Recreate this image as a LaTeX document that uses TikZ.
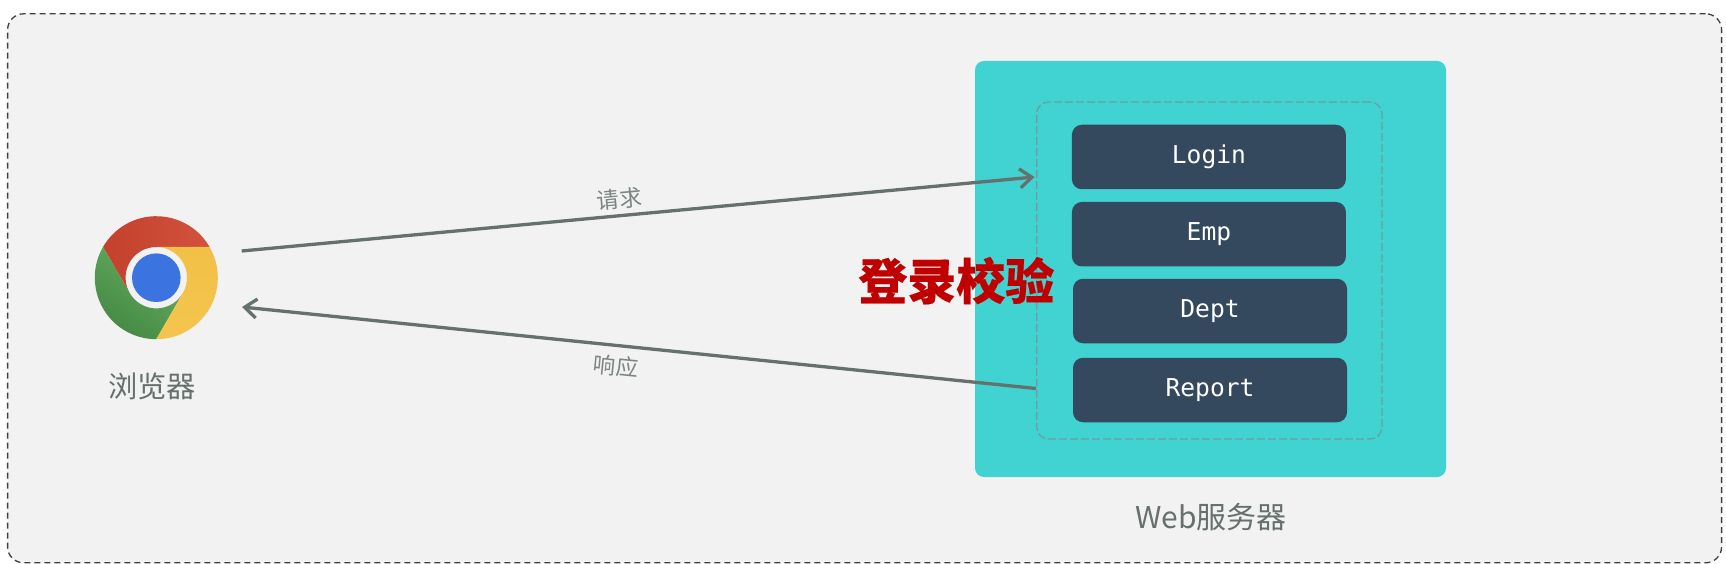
\documentclass[tikz,border=0pt]{standalone}
\usepackage{fontspec}
\setmainfont{Noto Sans CJK SC}
\newfontfamily\boxfont{DejaVu Sans Mono}
\newfontfamily\verifyfont{Noto Sans CJK SC}[BoldFeatures={FakeBold=0.35}]
\usetikzlibrary{arrows.meta}
\definecolor{panelbg}{HTML}{F2F2F2}
\definecolor{tealbox}{HTML}{41D3D1}
\definecolor{filterdash}{HTML}{6F9C9E}
\definecolor{slatebox}{HTML}{34495E}
\definecolor{arrowgrey}{HTML}{66706C}
\definecolor{labelgrey}{HTML}{66706C}
\definecolor{edgegrey}{HTML}{7C8582}
\definecolor{verifyred}{HTML}{C00000}
\definecolor{redl}{HTML}{C3412D}
\definecolor{redr}{HTML}{D1523D}
\definecolor{yelt}{HTML}{F2C046}
\definecolor{yelb}{HTML}{F4C54E}
\definecolor{grnl}{HTML}{66AD60}
\definecolor{grnr}{HTML}{438743}
\definecolor{chromeblue}{HTML}{3B74E0}
\tikzset{
  servlet/.style={draw=none,fill=slatebox,rounded corners=10pt,minimum width=274pt,minimum height=64.5pt,inner sep=0pt,text=white,font=\boxfont\fontsize{24.6}{25}\selectfont},
  flow/.style={draw=arrowgrey,line width=3.3pt,-{Straight Barb[length=12pt,width=19pt,line width=3.3pt]}},
  caption/.style={text=labelgrey,inner sep=0pt,font=\fontsize{29.3}{31}\selectfont},
  edgelabel/.style={text=edgegrey,inner sep=0pt,font=\fontsize{22.5}{24}\selectfont},
}
\begin{document}
\begin{tikzpicture}[x=1pt,y=-1pt]
\useasboundingbox (0,0) rectangle (1726,564);
% outer panel
\node[draw=black!75,fill=panelbg,line width=1.3pt,dash pattern=on 6pt off 4pt,rounded corners=16pt,minimum width=1714pt,minimum height=549pt,inner sep=0pt] (panel) at (864.6,288.3) {};
% server
\node[fill=tealbox,rounded corners=9pt,minimum width=471pt,minimum height=416pt,inner sep=0pt] (server) at (1210.5,269) {};
\node[draw=filterdash,line width=1.3pt,dash pattern=on 8pt off 3pt,rounded corners=12pt,minimum width=345.3pt,minimum height=337pt,inner sep=0pt] (filter) at (1209.3,270.5) {};
\node[servlet] (login) at (1208.9,157) {\raisebox{-0.7pt}{Login}};
\node[servlet] (emp) at (1208.9,234.2) {Emp};
\node[servlet] (dept) at (1210,311) {Dept};
\node[servlet] (report) at (1210,390) {Report};
\node[caption,font=\fontsize{30}{32}\selectfont] (webcap) at (1211,517) {Web服务器};
% chrome logo
\node[circle,minimum size=123pt,inner sep=0pt] (chrome) at (156.3,277.7) {};
\begin{scope}[shift={(chrome.center)},y=1pt]
  \path[left color=redl,right color=redr] (30:61.5) arc[start angle=30,end angle=150,radius=61.5] -- (210:30.7) arc[start angle=210,end angle=90,radius=30.7] -- cycle;
  \path[left color=grnl,right color=grnr,shading angle=-35] (150:61.5) arc[start angle=150,end angle=270,radius=61.5] -- (330:30.7) arc[start angle=330,end angle=210,radius=30.7] -- cycle;
  \path[top color=yelt,bottom color=yelb] (270:61.5) arc[start angle=270,end angle=390,radius=61.5] -- (90:30.7) arc[start angle=90,end angle=-30,radius=30.7] -- cycle;
  \fill[chromeblue] (0,0) circle[radius=24.3];
\end{scope}
\node[caption] (browsercap) at (152,386.5) {浏览器};
% connectors
\coordinate (reqfrom) at (241.7,251);
\coordinate (reqto) at (1034.5,177);
\coordinate (resfrom) at (1036,388.5);
\coordinate (resto) at (242,307);
\draw[flow] (reqfrom) -- (reqto);
\draw[flow] (resfrom) -- (resto);
\node[edgelabel,rotate=5.3] (reqlabel) at (619.5,199) {请求};
\node[edgelabel,rotate=-5.7] (reslabel) at (616,366) {响应};
% overlay
\node[text=verifyred,inner sep=0pt,font=\verifyfont\bfseries\fontsize{49}{50}\selectfont] (verify) at (956.3,280.7) {登录校验};
\end{tikzpicture}
\end{document}
